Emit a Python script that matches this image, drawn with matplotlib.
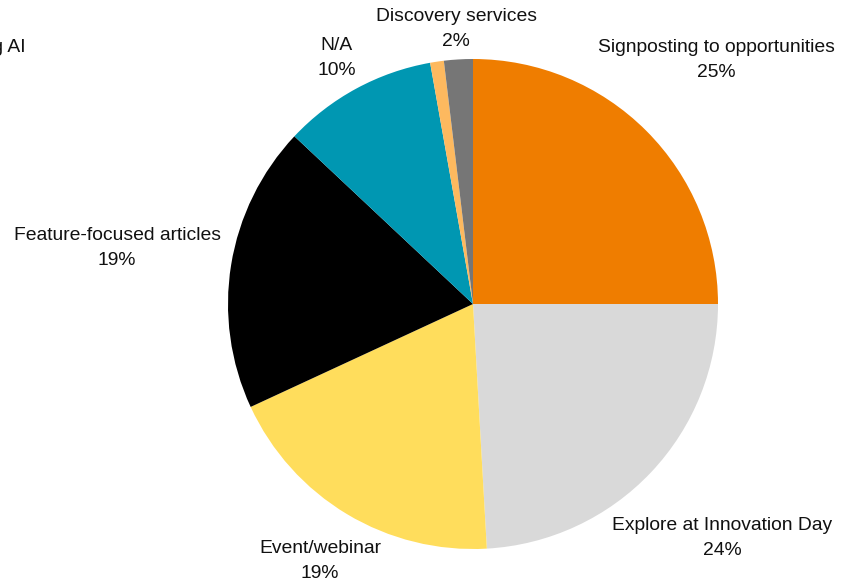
import matplotlib
matplotlib.use("Agg")
import matplotlib.pyplot as plt

categories = ["Signposting to opportunities", "Explore at Innovation Day", "Event/webinar",
              "Feature-focused articles", "N/A", "Training on using AI", "Discovery services"]
values = [25.0, 24.1, 19.0, 18.9, 10.2, 0.9, 1.9]
pct_labels = ["25%", "24%", "19%", "19%", "10%", "1%", "2%"]
colors = ["#EF7D00", "#D9D9D9", "#FFDD5C", "#000000", "#0097B2", "#FDB95F", "#767676"]

W, H = 844, 587
fig = plt.figure(figsize=(W / 100, H / 100), dpi=100)
ax = fig.add_axes([0, 0, 1, 1])

ax.pie(values, colors=colors, startangle=90, counterclock=False,
       center=(473, H - 304), radius=245, frame=True,
       wedgeprops=dict(linewidth=0))
ax.set_xlim(0, W)
ax.set_ylim(0, H)
ax.set_aspect("equal")
ax.axis("off")

label_pos = [(716, 60), (722, 538), (320, 561), (117, 248), (337, 58), (26, 60), (456, 29)]
label_ha = ["center", "center", "center", "center", "center", "right", "center"]
for cat, pct, (x, y), ha in zip(categories, pct_labels, label_pos, label_ha):
    ax.text(x, H - y, f"{cat}\n{pct}", ha=ha, va="center", multialignment="center",
            fontsize=13.9, family=["Liberation Sans", "DejaVu Sans"], color="#111111",
            linespacing=1.68)

fig.savefig("out.png", dpi=100)
